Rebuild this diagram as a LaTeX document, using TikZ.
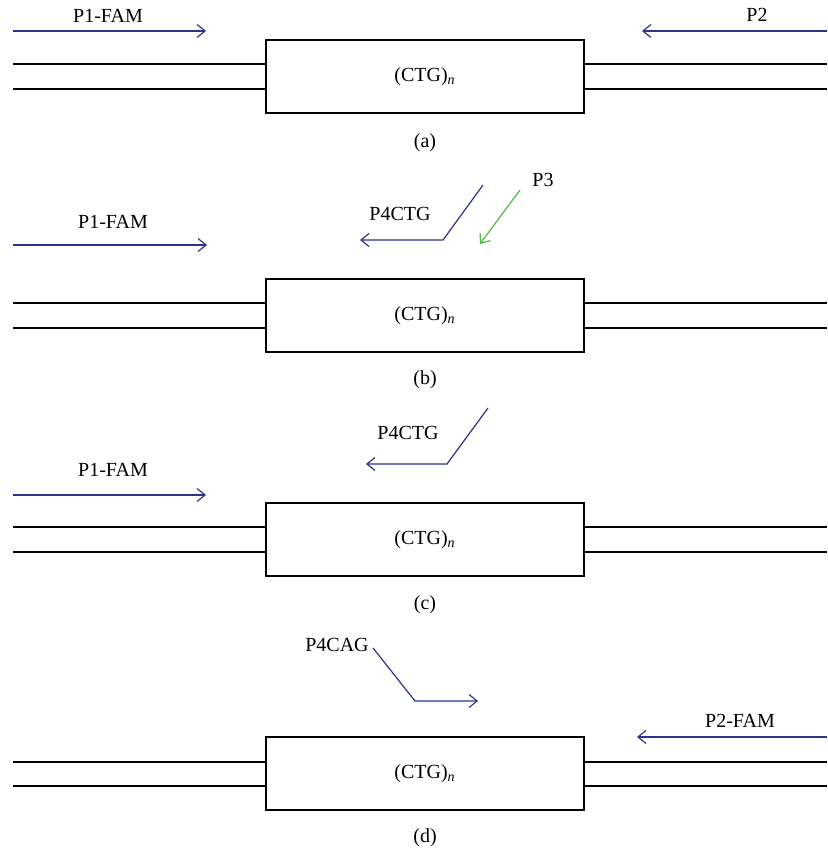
\documentclass[tikz,border=0pt]{standalone}
\usepackage{fontspec}
\setmainfont{Liberation Serif}
\usetikzlibrary{arrows.meta}
\definecolor{primerblue}{RGB}{45,50,140}
\definecolor{primergreen}{RGB}{80,185,70}

\begin{document}
\begin{tikzpicture}[x=0.5pt,y=-0.5pt,
  boxnode/.style={draw=black, line width=0.6pt, minimum width=159pt, minimum height=36.5pt, inner sep=0pt, font=\fontsize{10}{12}\selectfont},
  lbl/.style={font=\fontsize{10}{12}\selectfont, inner sep=1pt},
  strand/.style={draw=black, line width=0.6pt},
  primer/.style={draw=primerblue, line width=0.6pt, -{Straight Barb[length=4pt,width=6.5pt]}},
  probe/.style={draw=primergreen, line width=0.6pt, -{Straight Barb[length=4pt,width=6.5pt]}}]
        \useasboundingbox (0,0) rectangle (827,851);

        % (a)
        \node[boxnode] (ba) at (425,76.5) {(CTG)\textsubscript{\textit{n}}};
        \node[lbl] (la) at (425,143) {(a)};
        \coordinate (a1) at (13,64);
        \coordinate (a2) at (13,89);
        \coordinate (a3) at (827,64);
        \coordinate (a4) at (827,89);
        \draw[strand] (a1) -- (a1 -| ba.west);
        \draw[strand] (a2) -- (a2 -| ba.west);
        \draw[strand] (a3) -- (a3 -| ba.east);
        \draw[strand] (a4) -- (a4 -| ba.east);
        \node[lbl] (p1a) at (108,16) {P1-FAM};
        \coordinate (p1as) at (13,31);
        \coordinate (p1ae) at (206,31);
        \draw[primer] (p1as) -- (p1ae);
        \node[lbl] (p2a) at (757,15) {P2};
        \coordinate (p2as) at (827,31);
        \coordinate (p2ae) at (642,31);
        \draw[primer] (p2as) -- (p2ae);

        % (b)
        \node[boxnode] (bb) at (425,315.5) {(CTG)\textsubscript{\textit{n}}};
        \node[lbl] (lb) at (425,380) {(b)};
        \coordinate (b1) at (13,303);
        \coordinate (b2) at (13,328);
        \coordinate (b3) at (827,303);
        \coordinate (b4) at (827,328);
        \draw[strand] (b1) -- (b1 -| bb.west);
        \draw[strand] (b2) -- (b2 -| bb.west);
        \draw[strand] (b3) -- (b3 -| bb.east);
        \draw[strand] (b4) -- (b4 -| bb.east);
        \node[lbl] (p1b) at (113,222) {P1-FAM};
        \coordinate (p1bs) at (13,245);
        \coordinate (p1be) at (207,245);
        \draw[primer] (p1bs) -- (p1be);
        \node[lbl] (p4b) at (400,214) {P4CTG};
        \coordinate (p4bs) at (483,185);
        \coordinate (p4bk) at (443,240);
        \coordinate (p4be) at (360,240);
        \draw[primer] (p4bs) -- (p4bk) -- (p4be);
        \node[lbl] (p3b) at (543,180) {P3};
        \coordinate (p3bs) at (520,190);
        \coordinate (p3be) at (480,244);
        \draw[probe] (p3bs) -- (p3be);

        % (c)
        \node[boxnode] (bc) at (425,539.5) {(CTG)\textsubscript{\textit{n}}};
        \node[lbl] (lc) at (425,605) {(c)};
        \coordinate (c1) at (13,527);
        \coordinate (c2) at (13,552);
        \coordinate (c3) at (827,527);
        \coordinate (c4) at (827,552);
        \draw[strand] (c1) -- (c1 -| bc.west);
        \draw[strand] (c2) -- (c2 -| bc.west);
        \draw[strand] (c3) -- (c3 -| bc.east);
        \draw[strand] (c4) -- (c4 -| bc.east);
        \node[lbl] (p1c) at (113,470) {P1-FAM};
        \coordinate (p1cs) at (13,495);
        \coordinate (p1ce) at (206,495);
        \draw[primer] (p1cs) -- (p1ce);
        \node[lbl] (p4c) at (408,433) {P4CTG};
        \coordinate (p4cs) at (488,408);
        \coordinate (p4ck) at (447,464);
        \coordinate (p4ce) at (366,464);
        \draw[primer] (p4cs) -- (p4ck) -- (p4ce);

        % (d)
        \node[boxnode] (bd) at (425,773.5) {(CTG)\textsubscript{\textit{n}}};
        \node[lbl] (ld) at (425,838) {(d)};
        \coordinate (d1) at (13,762);
        \coordinate (d2) at (13,786);
        \coordinate (d3) at (827,762);
        \coordinate (d4) at (827,786);
        \draw[strand] (d1) -- (d1 -| bd.west);
        \draw[strand] (d2) -- (d2 -| bd.west);
        \draw[strand] (d3) -- (d3 -| bd.east);
        \draw[strand] (d4) -- (d4 -| bd.east);
        \node[lbl] (p4d) at (337,645) {P4CAG};
        \coordinate (p4ds) at (373,648);
        \coordinate (p4dk) at (415,701);
        \coordinate (p4de) at (478,701);
        \draw[primer] (p4ds) -- (p4dk) -- (p4de);
        \node[lbl] (p2d) at (740,721) {P2-FAM};
        \coordinate (p2ds) at (827,737);
        \coordinate (p2de) at (637,737);
        \draw[primer] (p2ds) -- (p2de);

\end{tikzpicture}
\end{document}
